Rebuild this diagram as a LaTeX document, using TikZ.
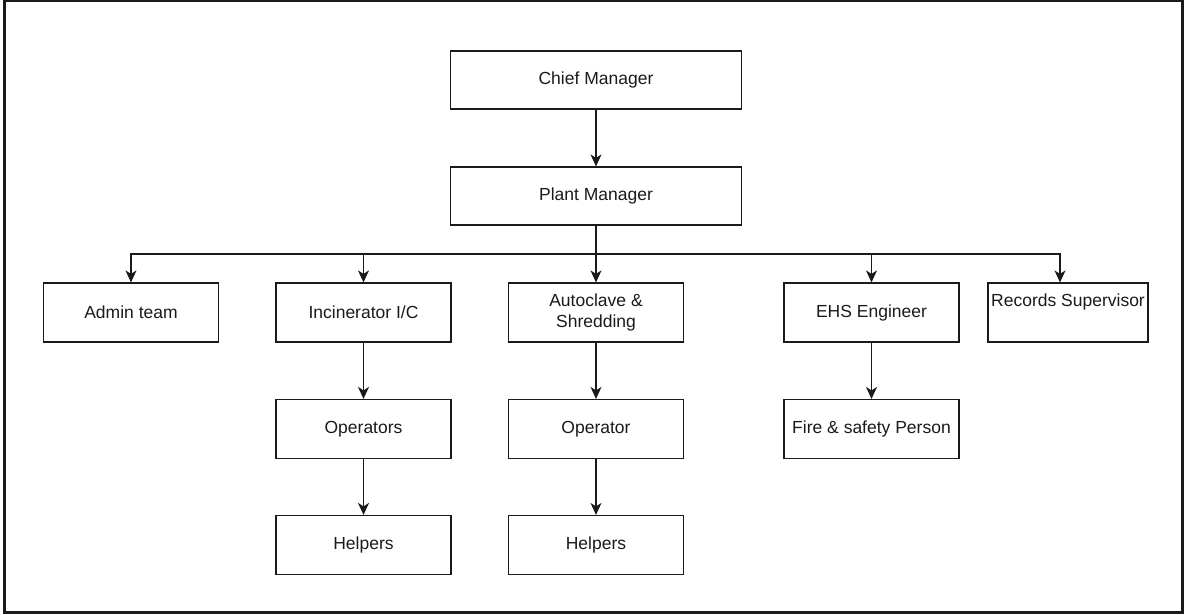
\documentclass[tikz,border=0pt]{standalone}
\usepackage{fontspec}
\setmainfont{Liberation Sans}
\usetikzlibrary{arrows.meta}
\definecolor{ink}{HTML}{1A1A1A}

\begin{document}
\begin{tikzpicture}[x=1pt, y=-1pt, >={Stealth[length=12pt, width=11pt, inset=3.5pt]},
  post/.style={draw=ink, line width=1.2pt, minimum width=175pt, minimum height=59pt,
    inner sep=0pt, align=center, text=ink, font=\fontsize{17.5}{21}\selectfont},
  link/.style={->, draw=ink, line width=1.2pt}]

\useasboundingbox (0,0) rectangle (1186,614);

% Frame
\draw[ink, line width=2.5pt] (4.5,1) rectangle (1182.5,612.5);

% --- Management ---
\node[post, minimum width=291pt, minimum height=58pt] (chief) at (596,80) {Chief Manager};
\node[post, minimum width=291pt, minimum height=58pt] (plant) at (596,196) {Plant Manager};

% --- Departments ---
\node[post] (admin) at (131,312.5) {Admin team};
\node[post] (incin) at (363.5,312.5) {Incinerator I/C};
\node[post] (auto) at (596,312.5) {Autoclave \&\\Shredding};
\node[post] (ehs) at (871.5,312.5) {EHS Engineer};
\node[post, minimum width=160pt, text depth=24pt] (records) at (1068,312.5) {Records Supervisor};

% --- Staff ---
\node[post] (operators) at (363.5,429) {Operators};
\node[post] (operator) at (596,429) {Operator};
\node[post] (fire) at (871.5,429) {Fire \& safety Person};
\node[post] (helpA) at (363.5,545) {Helpers};
\node[post] (helpB) at (596,545) {Helpers};

% Connectors
\coordinate (bus) at (596,254);
\draw[link] (chief) -- (plant);
\draw[ink, line width=1.2pt] (plant) -- (bus);
\draw[link] (bus) -| (admin.north);
\draw[link] (bus) -| (incin.north);
\draw[link] (bus) -- (auto.north);
\draw[link] (bus) -| (ehs.north);
\draw[link] (bus) -| ([xshift=-8pt]records.north);

\draw[link] (incin) -- (operators);
\draw[link] (operators) -- (helpA);
\draw[link] (auto) -- (operator);
\draw[link] (operator) -- (helpB);
\draw[link] (ehs) -- (fire);

\end{tikzpicture}
\end{document}
